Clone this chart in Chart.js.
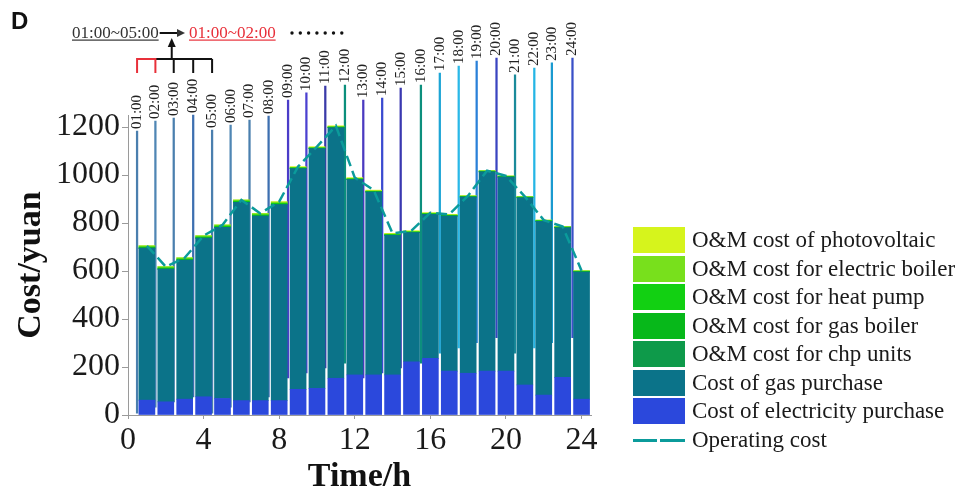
<!DOCTYPE html>
<html>
<head>
<meta charset="utf-8">
<script src="https://cdn.jsdelivr.net/npm/chart.js@4.4.1/dist/chart.umd.min.js"></script>
<style>
  html, body { margin: 0; padding: 0; background: #fff; }
  #wrap { position: relative; width: 965px; height: 499px; }
  #panel { position: absolute; left: 11px; top: 7px; font: bold 24px "Liberation Sans", Arial, sans-serif; color: #111; }
  #legend { position: absolute; left: 633px; top: 227px; font-family: "Liberation Serif", serif; font-size: 23px; color: #1a1a1a; }
  .item { display: flex; align-items: center; height: 26px; margin-bottom: 2.5px; white-space: nowrap; }
  .box { width: 52px; height: 26px; margin-right: 7px; flex: none; }
  .dash { width: 52px; height: 26px; margin-right: 7px; flex: none; position: relative; }
  .dash span { position: absolute; top: 12px; height: 3px; }
</style>
</head>
<body>
<div id="wrap">
  <canvas id="chart" width="965" height="499"></canvas>
  <div id="panel">D</div>
  <div id="legend"></div>
</div>
<script>
// hours 1..24
const hours = [1, 2, 3, 4, 5, 6, 7, 8, 9, 10, 11, 12, 13, 14, 15, 16, 17, 18, 19, 20, 21, 22, 23, 24];

// stacked cost components (yuan)
const elecPurchase = [62, 55, 66, 76, 69, 60, 60, 60, 107, 111, 153, 167, 167, 167, 222, 236, 183, 174, 183, 183, 125, 83, 157, 66];
const gasPurchase = [633, 553, 579, 661, 713, 826, 769, 817, 920, 999, 1044, 814, 762, 582, 538, 600, 646, 734, 830, 808, 780, 724, 623, 530];
const chpOM = [0, 0, 0, 0, 0, 0, 0, 0, 0, 0, 0, 0, 0, 0, 0, 0, 0, 0, 0, 0, 0, 0, 0, 0];
const gasBoilerOM = [1, 1, 1, 1, 1, 1, 1, 1, 1, 1, 1, 1, 1, 1, 1, 1, 1, 1, 1, 1, 1, 1, 1, 1];
const heatPumpOM = [4, 4, 4, 4, 4, 4, 4, 4, 2, 2, 2, 2, 2, 2, 2, 2, 2, 2, 2, 2, 2, 2, 2, 2];
const elecBoilerOM = [5, 5, 5, 5, 5, 5, 5, 5, 2, 2, 2, 2, 2, 2, 2, 2, 2, 2, 2, 2, 2, 2, 2, 2];
const pvOM = [0, 0, 0, 0, 0, 0, 1, 2, 3, 3, 3, 3, 3, 3, 3, 2, 2, 1, 0, 0, 0, 0, 0, 0];
const operatingCost = [705, 618, 655, 747, 792, 896, 840, 889, 1035, 1118, 1205, 989, 937, 757, 768, 843, 836, 914, 1018, 996, 910, 812, 785, 601];

// time stems above the bars
const stemLabels = ['01:00', '02:00', '03:00', '04:00', '05:00', '06:00', '07:00', '08:00', '09:00', '10:00', '11:00', '12:00',
  '13:00', '14:00', '15:00', '16:00', '17:00', '18:00', '19:00', '20:00', '21:00', '22:00', '23:00', '24:00'];
const stemX = [0.48, 1.45, 2.42, 3.45, 4.45, 5.43, 6.43, 7.44, 8.47, 9.44, 10.44, 11.48, 12.45, 13.45, 14.43, 15.5, 16.5, 17.5, 18.45, 19.5, 20.48, 21.5, 22.43, 23.52];
const stemBottom = [8, 33, 55, 75, 8, 33, 55, 75, 154, 175, 196, 216, 154, 175, 196, 216, 258, 279, 301, 322, 258, 279, 301, 322];
const stemTop = [1183, 1225, 1237, 1250, 1187, 1208, 1229, 1246, 1312, 1342, 1371, 1375, 1312, 1321, 1362, 1375, 1425, 1454, 1475, 1487, 1417, 1446, 1467, 1487];
const stemColors = ['#4a7fae', '#4f86b4', '#4a7fae', '#3d6fb0', '#4a7fae', '#4f86b4', '#4a7fae', '#3d6fb0', '#4a3cc8', '#4b40d0', '#3a3aa8', '#0b8f7c',
  '#4a3ac0', '#3a4ad0', '#3a38b0', '#0d8f7d', '#1da5d5', '#2ab8e8', '#2a80d8', '#3a44c0', '#1a8a9a', '#25b5e5', '#1a9ad0', '#3a50c8'];

const serif = 'Liberation Serif';
const pts = arr => hours.map((h, i) => ({ x: h, y: arr[i] }));

const barSeries = [
  { label: 'Cost of electricity purchase', data: elecPurchase, color: '#2b48dc' },
  { label: 'Cost of gas purchase', data: gasPurchase, color: '#0b7389' },
  { label: 'O&M cost for chp units', data: chpOM, color: '#0e9a4a' },
  { label: 'O&M cost for gas boiler', data: gasBoilerOM, color: '#07b81a' },
  { label: 'O&M cost for heat pump', data: heatPumpOM, color: '#12d012' },
  { label: 'O&M cost for electric boiler', data: elecBoilerOM, color: '#78e01c' },
  { label: 'O&M cost of photovoltaic', data: pvOM, color: '#d6f41c' },
];
const lineColor = '#0b9b9b';

const datasets = [
  {
    type: 'line',
    label: 'Operating cost',
    data: pts(operatingCost),
    borderColor: lineColor,
    borderWidth: 2.5,
    borderDash: [11, 5],
    pointRadius: 0,
    tension: 0,
    stack: 'line',
    order: -1,
    clip: false,
  },
  ...barSeries.map(s => ({
    label: s.label,
    data: pts(s.data),
    backgroundColor: s.color,
    borderWidth: 0,
    barThickness: 16,
    grouped: false,
    stack: 'costs',
    clip: false,
  })),
  {
    label: 'stems',
    data: stemX.map((x, i) => ({ x: x, y: [stemBottom[i], stemTop[i]] })),
    backgroundColor: stemColors,
    borderWidth: 0,
    barThickness: 1.6,
    grouped: false,
    stack: 'stems',
    order: 5,
    clip: false,
  },
];

// rotated hour labels + the 01:00~05:00 annotation at the top
const stemLabelPlugin = {
  id: 'stemLabels',
  afterDatasetsDraw(chart) {
    const { ctx, scales: { x, y } } = chart;
    const sx = i => x.getPixelForValue(stemX[i]);
    ctx.save();
    ctx.font = '15px "' + serif + '"';
    ctx.fillStyle = '#222';
    ctx.textAlign = 'left';
    ctx.textBaseline = 'middle';
    stemLabels.forEach((t, i) => {
      ctx.save();
      ctx.translate(sx(i), y.getPixelForValue(stemTop[i]) - 2);
      ctx.rotate(-Math.PI / 2);
      ctx.fillText(t, 0, 0);
      ctx.restore();
    });

    // bracket over 01:00..05:00
    const by = 59, ly = 73;
    ctx.lineWidth = 2;
    ctx.strokeStyle = '#111';
    ctx.beginPath();
    ctx.moveTo(sx(1), by);
    ctx.lineTo(sx(4), by);
    for (let i = 2; i <= 4; i++) {
      ctx.moveTo(sx(i), by);
      ctx.lineTo(sx(i), ly);
    }
    ctx.stroke();
    ctx.strokeStyle = '#e8303a';
    ctx.beginPath();
    ctx.moveTo(sx(0), ly);
    ctx.lineTo(sx(0), by);
    ctx.lineTo(sx(1), by);
    ctx.lineTo(sx(1), ly);
    ctx.stroke();

    // up arrow
    const ax = sx(2) - 2;
    ctx.strokeStyle = '#111';
    ctx.fillStyle = '#111';
    ctx.beginPath();
    ctx.moveTo(ax, by);
    ctx.lineTo(ax, 46);
    ctx.stroke();
    ctx.beginPath();
    ctx.moveTo(ax - 4, 47);
    ctx.lineTo(ax, 38);
    ctx.lineTo(ax + 4, 47);
    ctx.fill();

    // texts
    ctx.font = '17px "' + serif + '"';
    ctx.textBaseline = 'alphabetic';
    const t1 = '01:00~05:00', t2 = '01:00~02:00';
    ctx.fillStyle = '#333';
    ctx.fillText(t1, 72, 38);
    const w1 = ctx.measureText(t1).width;
    ctx.fillRect(72, 39.5, w1, 1.2);

    // right arrow
    ctx.beginPath();
    ctx.moveTo(72 + w1 + 1, 33);
    ctx.lineTo(178, 33);
    ctx.stroke();
    ctx.beginPath();
    ctx.moveTo(177, 29);
    ctx.lineTo(185, 33);
    ctx.lineTo(177, 37);
    ctx.fill();

    ctx.fillStyle = '#e8303a';
    ctx.fillText(t2, 189, 38);
    const w2 = ctx.measureText(t2).width;
    ctx.fillRect(189, 39.5, w2, 1.2);

    ctx.fillStyle = '#111';
    for (let k = 0; k < 7; k++) {
      ctx.beginPath();
      ctx.arc(292 + k * 8.3, 33, 1.7, 0, Math.PI * 2);
      ctx.fill();
    }
    ctx.restore();
  }
};

new Chart(document.getElementById('chart'), {
  type: 'bar',
  data: { datasets },
  options: {
    responsive: false,
    animation: false,
    layout: { padding: { top: 115, right: 374, bottom: 0, left: 0 } },
    plugins: { legend: { display: false }, tooltip: { enabled: false } },
    scales: {
      x: {
        type: 'linear',
        min: 0,
        max: 24.5,
        offset: false,
        border: { color: '#9a9a9a' },
        grid: { display: true, drawOnChartArea: false, tickLength: 4, color: '#9a9a9a', offset: false },
        ticks: { stepSize: 4, includeBounds: false, maxRotation: 0, padding: 2, color: '#1a1a1a', font: { family: serif, size: 32 }, callback: v => String(v) },
        title: { display: true, text: 'Time/h', color: '#111', font: { family: serif, size: 34, weight: 'bold' }, padding: { top: 0, bottom: 1 } },
        afterFit: s => { s.height = 84; },
      },
      y: {
        min: 0,
        max: 1250,
        stacked: true,
        border: { color: '#9a9a9a' },
        grid: { display: true, drawOnChartArea: false, tickLength: 6, color: '#9a9a9a' },
        ticks: { stepSize: 200, includeBounds: false, padding: 2, color: '#1a1a1a', font: { family: serif, size: 32 }, callback: v => String(v) },
        title: { display: true, text: 'Cost/yuan', color: '#111', font: { family: serif, size: 34, weight: 'bold' }, padding: { top: 11 } },
        afterFit: s => { s.width = 128; },
      },
    },
  },
  plugins: [stemLabelPlugin],
});

// legend (top item is the last stacked series)
const legend = document.getElementById('legend');
[...barSeries].reverse().forEach(s => {
  const row = document.createElement('div');
  row.className = 'item';
  row.innerHTML = '<div class="box" style="background:' + s.color + '"></div><span></span>';
  row.lastChild.textContent = s.label;
  legend.appendChild(row);
});
const lineRow = document.createElement('div');
lineRow.className = 'item';
lineRow.innerHTML = '<div class="dash"><span style="left:0;width:24px;background:' + lineColor + '"></span>' +
  '<span style="left:27px;width:25px;background:' + lineColor + '"></span></div><span>Operating cost</span>';
legend.appendChild(lineRow);
</script>
</body>
</html>
